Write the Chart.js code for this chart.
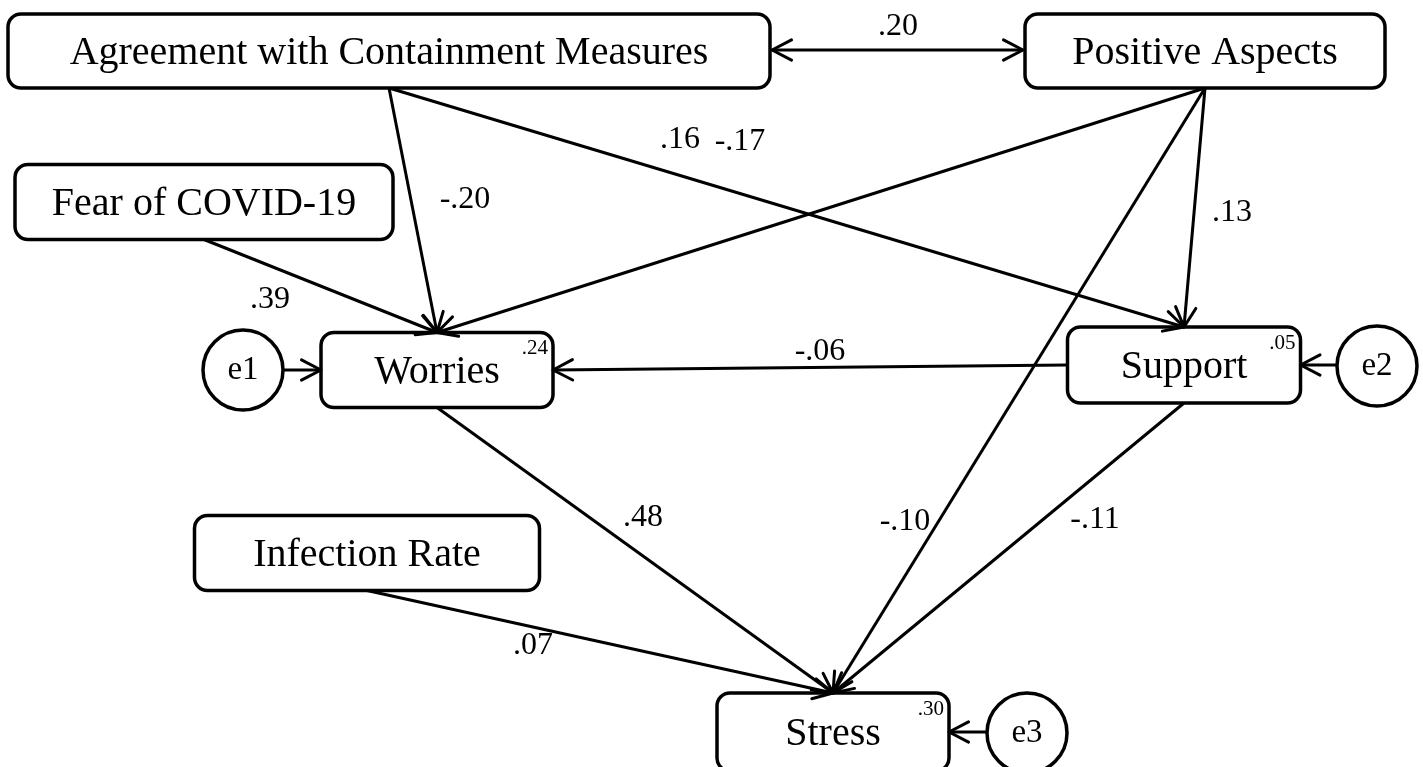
<!DOCTYPE html>
<html>
<head>
<meta charset="utf-8">
<script src="https://cdn.jsdelivr.net/npm/chart.js@4/dist/chart.umd.min.js"></script>
<style>
  html, body { margin: 0; padding: 0; background: #fff; }
  canvas { display: block; }
</style>
</head>
<body>
<canvas id="pathChart" width="1423" height="767"></canvas>
<script>
// Model data
const nodeNames = ['Agreement with Containment Measures', 'Positive Aspects', 'Fear of COVID-19',
    'Worries', 'Support', 'Infection Rate', 'Stress'];
const r2Values = [null, null, null, '.24', '.05', null, '.30'];
const errorNames = ['e1', 'e2', 'e3'];
const errorTargets = ['Worries', 'Support', 'Stress'];
const pathFrom = ['Agreement with Containment Measures', 'Agreement with Containment Measures',
    'Positive Aspects', 'Positive Aspects', 'Positive Aspects', 'Fear of COVID-19',
    'Support', 'Worries', 'Support', 'Infection Rate'];
const pathTo = ['Worries', 'Support', 'Worries', 'Support', 'Stress', 'Worries',
    'Worries', 'Stress', 'Stress', 'Stress'];
const pathCoef = ['-.20', '.16', '-.17', '.13', '-.10', '.39', '-.06', '.48', '-.11', '.07'];
const corrPair = ['Agreement with Containment Measures', 'Positive Aspects'];
const corrCoef = '.20';

// Layout (in the chart's own axis units, which match the page size)
const boxes = {
    'Agreement with Containment Measures': { cx: 389, cy: 51, w: 762, h: 74 },
    'Positive Aspects': { cx: 1205, cy: 51, w: 360, h: 74 },
    'Fear of COVID-19': { cx: 204, cy: 202, w: 378, h: 75 },
    'Worries': { cx: 437, cy: 370, w: 232, h: 75 },
    'Support': { cx: 1184, cy: 365, w: 233, h: 76 },
    'Infection Rate': { cx: 367, cy: 553, w: 345, h: 75 },
    'Stress': { cx: 833, cy: 732, w: 232, h: 78 }
};
const errorPos = { e1: [243, 370], e2: [1377, 366], e3: [1027, 733] };
const errorR = 40;
const pathSides = [['bottom', 'top'], ['bottom', 'top'], ['bottom', 'top'], ['bottom', 'top'],
    ['bottom', 'top'], ['bottom', 'top'], ['left', 'right'], ['bottom', 'top'], ['bottom', 'top'],
    ['bottom', 'top']];
const coefPos = [[465, 200], [680, 140], [740, 142], [1232, 213], [905, 522], [270, 300],
    [820, 352], [643, 518], [1095, 520], [533, 646]];
const corrPos = [898, 27];

function anchor(name, side) {
    const b = boxes[name];
    if (side === 'top') return { x: b.cx, y: b.cy - b.h / 2 };
    if (side === 'bottom') return { x: b.cx, y: b.cy + b.h / 2 };
    if (side === 'left') return { x: b.cx - b.w / 2, y: b.cy };
    return { x: b.cx + b.w / 2, y: b.cy };
}

const segments = [];
pathFrom.forEach((f, i) => {
    segments.push({ a: anchor(f, pathSides[i][0]), b: anchor(pathTo[i], pathSides[i][1]), heads: 1 });
});
errorNames.forEach((e, i) => {
    const t = anchor(errorTargets[i], e === 'e1' ? 'left' : 'right');
    const c = errorPos[e];
    const dir = e === 'e1' ? 1 : -1;
    segments.push({ a: { x: c[0] + dir * errorR, y: t.y }, b: t, heads: 1 });
});
{
    const a = anchor(corrPair[0], 'right'), b = anchor(corrPair[1], 'left');
    segments.push({ a: { x: a.x + 2, y: 50 }, b: { x: b.x - 2, y: 50 }, heads: 2 });
}

const datasets = segments.map(s => ({
    data: [s.a, s.b],
    showLine: true,
    borderColor: '#000',
    borderWidth: 3,
    pointRadius: 0,
    fill: false
}));

const SERIF = '"Liberation Serif", "Times New Roman", serif';

function roundRect(ctx, x, y, w, h, r) {
    ctx.beginPath();
    ctx.moveTo(x + r, y);
    ctx.arcTo(x + w, y, x + w, y + h, r);
    ctx.arcTo(x + w, y + h, x, y + h, r);
    ctx.arcTo(x, y + h, x, y, r);
    ctx.arcTo(x, y, x + w, y, r);
    ctx.closePath();
}

function head(ctx, from, to) {
    const ang = Math.atan2(to.y - from.y, to.x - from.x);
    const len = 22, spread = 0.48;
    ctx.beginPath();
    ctx.moveTo(to.x - len * Math.cos(ang - spread), to.y - len * Math.sin(ang - spread));
    ctx.lineTo(to.x, to.y);
    ctx.lineTo(to.x - len * Math.cos(ang + spread), to.y - len * Math.sin(ang + spread));
    ctx.stroke();
}

const diagramPlugin = {
    id: 'diagram',
    afterDatasetsDraw(chart) {
        const ctx = chart.ctx;
        const xs = chart.scales.x, ys = chart.scales.y;
        const px = v => xs.getPixelForValue(v), py = v => ys.getPixelForValue(v);
        ctx.save();
        ctx.strokeStyle = '#000';
        ctx.fillStyle = '#000';
        ctx.lineWidth = 3.5;
        ctx.lineCap = 'round';
        ctx.lineJoin = 'round';

        // boxes
        nodeNames.forEach((n, i) => {
            const b = boxes[n];
            const x0 = px(b.cx - b.w / 2), x1 = px(b.cx + b.w / 2);
            const y0 = py(b.cy - b.h / 2), y1 = py(b.cy + b.h / 2);
            roundRect(ctx, x0, y0, x1 - x0, y1 - y0, 13);
            ctx.fillStyle = '#fff';
            ctx.fill();
            ctx.stroke();
            ctx.fillStyle = '#000';
            ctx.font = '40px ' + SERIF;
            ctx.textAlign = 'center';
            ctx.textBaseline = 'middle';
            ctx.fillText(n, px(b.cx), py(b.cy + 2));
            if (r2Values[i]) {
                ctx.font = '21px ' + SERIF;
                ctx.textAlign = 'right';
                ctx.fillText(r2Values[i], x1 - 5, y0 + 16);
            }
        });

        // error terms
        errorNames.forEach(e => {
            const c = errorPos[e];
            ctx.beginPath();
            ctx.arc(px(c[0]), py(c[1]), errorR, 0, Math.PI * 2);
            ctx.fillStyle = '#fff';
            ctx.fill();
            ctx.stroke();
            ctx.fillStyle = '#000';
            ctx.font = '33px ' + SERIF;
            ctx.textAlign = 'center';
            ctx.textBaseline = 'middle';
            ctx.fillText(e, px(c[0]), py(c[1]));
        });

        // arrow heads
        ctx.lineWidth = 3;
        segments.forEach(s => {
            const a = { x: px(s.a.x), y: py(s.a.y) }, b = { x: px(s.b.x), y: py(s.b.y) };
            head(ctx, a, b);
            if (s.heads === 2) head(ctx, b, a);
        });

        // coefficients
        ctx.font = '32px ' + SERIF;
        ctx.textAlign = 'center';
        ctx.textBaseline = 'middle';
        pathCoef.forEach((c, i) => ctx.fillText(c, px(coefPos[i][0]), py(coefPos[i][1])));
        ctx.fillText(corrCoef, px(corrPos[0]), py(corrPos[1]));
        ctx.restore();
    }
};

new Chart(document.getElementById('pathChart'), {
    type: 'scatter',
    data: { datasets },
    options: {
        responsive: false,
        animation: false,
        layout: { padding: 0 },
        plugins: { legend: { display: false }, tooltip: { enabled: false } },
        scales: {
            x: { type: 'linear', min: 0, max: 1423, display: false },
            y: { type: 'linear', min: 0, max: 767, reverse: true, display: false }
        }
    },
    plugins: [diagramPlugin]
});
</script>
</body>
</html>
